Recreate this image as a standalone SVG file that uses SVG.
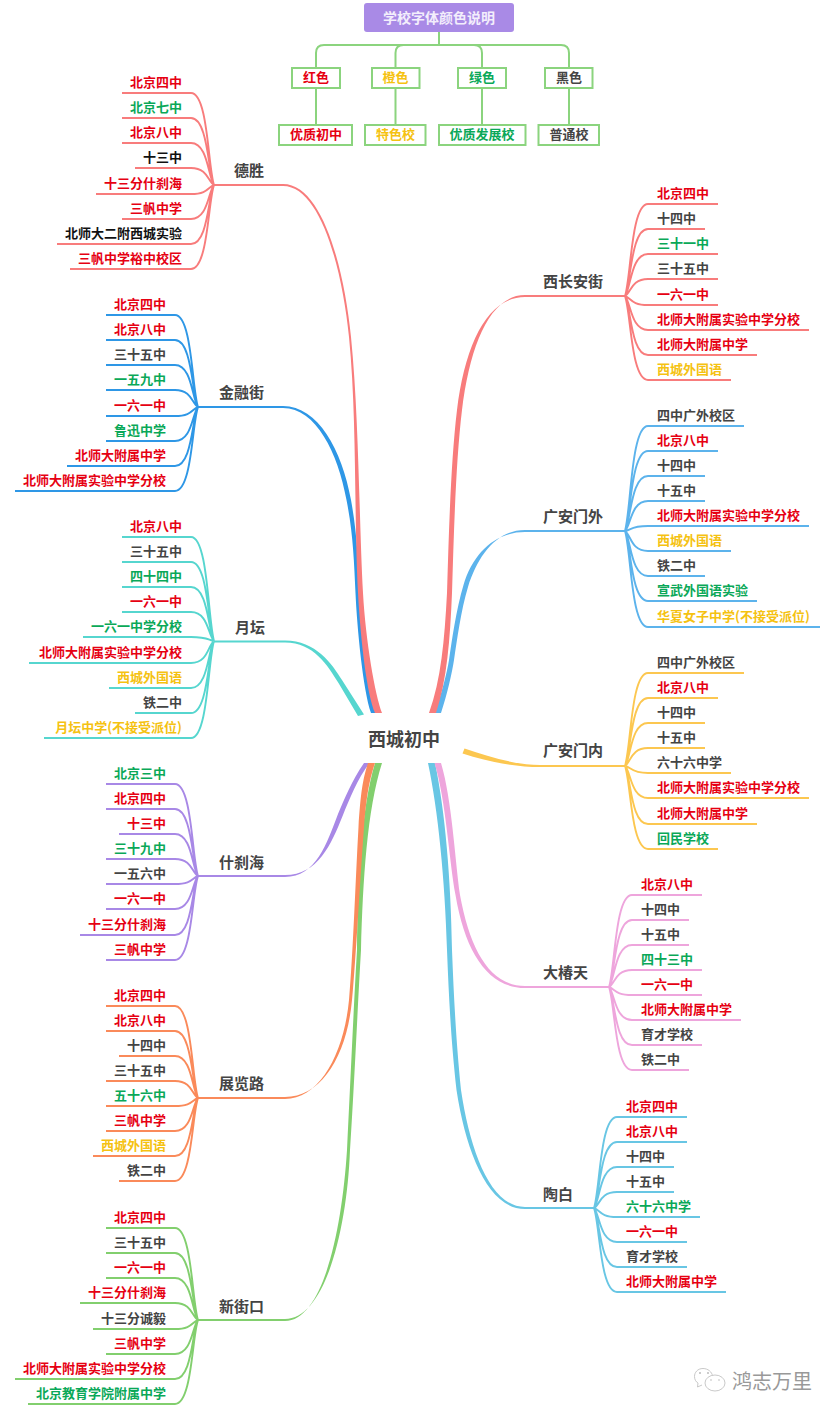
<svg xmlns="http://www.w3.org/2000/svg" width="838" height="1417" viewBox="0 0 838 1417">
<style>
text{font-family:"Noto Sans CJK SC","Liberation Sans",sans-serif;font-weight:700}
.l{font-size:13px;transform:translateY(-.8px)}
.e{text-anchor:end}
.m{text-anchor:middle}
.t{font-size:15px;fill:#444;transform:translateY(-.5px)}
.r{fill:#e60012}
.g{fill:#0aa858}
.y{fill:#f5c211}
.d{fill:#444}
.k{fill:#111}
.box{fill:#fff;stroke:#8bd47e;stroke-width:2}
.lg{fill:none;stroke:#8bd47e;stroke-width:2}
.leaf path{fill:none;stroke-width:1.9}
</style>
<rect width="838" height="1417" fill="#fff"/>
<g id="connectors">
<g id="legend-links" class="lg">
<path d="M439 32V45M316 68V53Q316 45 324 45H561Q569 45 569 53V68M395.5 68V53Q395.5 45 403.5 45H474Q482 45 482 53V68M316 88V125M395.5 88V125M482 88V125M569 88V125"/>
</g>
<g id="main-links">
<path fill="#2e97e6" d="M198 406H283C318 406 342 450 351 500C357 533 358 560 360 593C362 627 369 690 377 713H371C363 690 357 627 355.500 593C354 560 353 533 346.500 500C338 453 316 408 283 408H198Z"/>
<path fill="#f87c7c" d="M214 184H283C322 184 344 267 351 337C359 417 359 520 363 593C365.600 640 375 695 382 713H375C367 695 360.600 640 358 593C354 520 357 417 349 337C342 267 320 186 283 186H214Z"/>
<path fill="#5cb3ec" d="M625 530H525C497 530 478 555 468 587C461 610 457 640 454 660C452 673 447 695 441 713H435C441 695 447 673 449 660C452 640 456 610 463.500 585C473 553 495 532 525 532H625Z"/>
<path fill="#f87c7c" d="M625 295H525C490 295 470 345 462 410C456 460 454 527 452 593C450 640 447 680 436 713H429C441 680 444.500 640 447 593C449 527 451 460 457 410C465 345 487 297 525 297H625Z"/>
<path fill="#56d6cf" d="M214 640.500H285C316 640.500 332 664 342 680L364 714.500L358 716L338.500 683C328 666 314 642.500 285 642.500H214Z"/>
<path fill="#fcc750" d="M625 765H540C516 765 490 757 464.500 748.500L462.500 753.500C488 762 516 767 540 767H625Z"/>
<path fill="#a888e6" d="M198 875H285C318 875 331 845 343 815C349 800 358 778 369.500 763H364C352 780 344 800 338 814C327 843 316 877 285 877H198Z"/>
<path fill="#82cf6e" d="M198 1319H285C325 1319 347 1230 350 1150C354 1090 358 1000 361 950C363 880 367 810 382 763H375C361 810 358 880 357 950C354 1000 350 1090 347 1150C342 1230 323 1321 285 1321H198Z"/>
<path fill="#fa8a5a" d="M198 1097H285C322 1097 347 1055 352 1000C356 956 360 880 364 827C366.500 794 370 778 375 763H368C363 778 360.500 794 358.500 827C355.500 880 353 956 349 1000C344 1053 320 1099 285 1099H198Z"/>
<path fill="#68c6e4" d="M594 1207H525C490 1207 470 1150 461 1090C456 1040 454 1000 452 950C451 880 445 810 435 763H428C438 810 445 880 447 950C449 1000 451 1040 456.500 1090C466 1152 488 1209 525 1209H594Z"/>
<path fill="#eea5dc" d="M609 986H525C490 986 470 950 460 895C455 860 452 800 441 763H434.500C446 800 449 860 455.500 895C465 952 488 988 525 988H609Z"/>
</g>
<g class="leaf">
<path stroke="#f87c7c" d="M214 185C208 167 208 93 191 93H122M214 185C208 172 208 118 191 118H122M214 185C208 177 208 143 191 143H122M214 185C208 182 208 168 191 168H135M214 185C208 187 208 194 191 194H96M214 185C208 192 208 219 191 219H122M214 185C208 197 208 244 191 244H57M214 185C208 202 208 269 191 269H70"/>
<path stroke="#2e97e6" d="M198 407C192 389 192 315 175 315H106M198 407C192 394 192 340 175 340H106M198 407C192 399 192 365 175 365H106M198 407C192 404 192 390 175 390H106M198 407C192 409 192 416 175 416H106M198 407C192 414 192 441 175 441H106M198 407C192 419 192 466 175 466H67M198 407C192 424 192 491 175 491H15"/>
<path stroke="#56d6cf" d="M214 641C208 620 208 537 191 537H122M214 641C208 625 208 562 191 562H122M214 641C208 630 208 587 191 587H122M214 641C208 635 208 612 191 612H122M214 641C208 640 208 637 191 637H83M214 641C208 645 208 663 191 663H29M214 641C208 650 208 688 191 688H109M214 641C208 655 208 713 191 713H135M214 641C208 660 208 738 191 738H44"/>
<path stroke="#a888e6" d="M198 876C192 858 192 784 175 784H106M198 876C192 863 192 809 175 809H106M198 876C192 868 192 834 175 834H119M198 876C192 873 192 859 175 859H106M198 876C192 878 192 884 175 884H106M198 876C192 883 192 909 175 909H106M198 876C192 888 192 935 175 935H80M198 876C192 893 192 960 175 960H106"/>
<path stroke="#fa8a5a" d="M198 1098C192 1080 192 1006 175 1006H106M198 1098C192 1085 192 1031 175 1031H106M198 1098C192 1090 192 1056 175 1056H119M198 1098C192 1095 192 1081 175 1081H106M198 1098C192 1100 192 1106 175 1106H106M198 1098C192 1105 192 1131 175 1131H106M198 1098C192 1110 192 1156 175 1156H93M198 1098C192 1115 192 1181 175 1181H119"/>
<path stroke="#82cf6e" d="M198 1320C192 1302 192 1228 175 1228H106M198 1320C192 1307 192 1253 175 1253H106M198 1320C192 1312 192 1278 175 1278H106M198 1320C192 1317 192 1303 175 1303H80M198 1320C192 1322 192 1329 175 1329H93M198 1320C192 1327 192 1354 175 1354H106M198 1320C192 1332 192 1379 175 1379H15M198 1320C192 1337 192 1404 175 1404H28"/>
<path stroke="#f87c7c" d="M625 296C631 278 631 204 648 204H718M625 296C631 283 631 229 648 229H705M625 296C631 288 631 254 648 254H718M625 296C631 293 631 279 648 279H718M625 296C631 298 631 305 648 305H718M625 296C631 303 631 330 648 330H809M625 296C631 308 631 355 648 355H757M625 296C631 313 631 380 648 380H731"/>
<path stroke="#5cb3ec" d="M625 531C631 510 631 426 648 426H744M625 531C631 515 631 451 648 451H718M625 531C631 520 631 476 648 476H705M625 531C631 525 631 501 648 501H705M625 531C631 530 631 526 648 526H809M625 531C631 535 631 551 648 551H731M625 531C631 540 631 576 648 576H705M625 531C631 545 631 601 648 601H757M625 531C631 550 631 627 648 627H820"/>
<path stroke="#fcc750" d="M625 766C631 747 631 673 648 673H744M625 766C631 752 631 698 648 698H718M625 766C631 757 631 723 648 723H705M625 766C631 762 631 748 648 748H705M625 766C631 767 631 773 648 773H731M625 766C631 772 631 798 648 798H809M625 766C631 778 631 824 648 824H757M625 766C631 783 631 849 648 849H718"/>
<path stroke="#eea5dc" d="M609 987C615 969 615 895 632 895H702M609 987C615 974 615 920 632 920H689M609 987C615 979 615 945 632 945H689M609 987C615 984 615 970 632 970H702M609 987C615 989 615 995 632 995H702M609 987C615 994 615 1020 632 1020H741M609 987C615 999 615 1045 632 1045H702M609 987C615 1004 615 1070 632 1070H689"/>
<path stroke="#68c6e4" d="M594 1208C600 1190 600 1117 617 1117H687M594 1208C600 1195 600 1142 617 1142H687M594 1208C600 1200 600 1167 617 1167H674M594 1208C600 1205 600 1192 617 1192H674M594 1208C600 1210 600 1217 617 1217H700M594 1208C600 1215 600 1242 617 1242H687M594 1208C600 1220 600 1267 617 1267H687M594 1208C600 1225 600 1292 617 1292H726"/>
</g>
</g>

<g id="legend-title"><rect x="364" y="3" width="150" height="29" rx="3" fill="#a98ae6"/><text x="439" y="23" class="m" font-size="14" fill="#f3eefc">学校字体颜色说明</text></g>
<g id="legend-red"><rect class="box" x="292" y="68" width="48" height="20"/><text class="l m r" x="316" y="83">红色</text></g>
<g id="legend-orange"><rect class="box" x="372" y="68" width="47.500" height="20"/><text class="l m y" x="395.500" y="83">橙色</text></g>
<g id="legend-green"><rect class="box" x="458" y="68" width="48" height="20"/><text class="l m g" x="482" y="83">绿色</text></g>
<g id="legend-black"><rect class="box" x="545" y="68" width="47.500" height="20"/><text class="l m d" x="569" y="83">黑色</text></g>
<g id="legend-red-note"><rect class="box" x="279" y="125" width="73" height="20"/><text class="l m r" x="316" y="140">优质初中</text></g>
<g id="legend-orange-note"><rect class="box" x="365" y="125" width="60.500" height="20"/><text class="l m y" x="395.500" y="140">特色校</text></g>
<g id="legend-green-note"><rect class="box" x="439" y="125" width="86.500" height="20"/><text class="l m g" x="482" y="140">优质发展校</text></g>
<g id="legend-black-note"><rect class="box" x="538.500" y="125" width="60.500" height="20"/><text class="l m d" x="569" y="140">普通校</text></g>

<g id="root"><text x="368" y="745.500" font-size="18" fill="#444">西城初中</text></g>

<g id="topic-deshe"><text class="t" x="234" y="176.500">德胜</text></g>
<g id="topic-jinrong"><text class="t" x="219" y="398.500">金融街</text></g>
<g id="topic-yuetan"><text class="t" x="235" y="633.500">月坛</text></g>
<g id="topic-shicha"><text class="t" x="219" y="868.500">什刹海</text></g>
<g id="topic-zhanlan"><text class="t" x="219" y="1089.500">展览路</text></g>
<g id="topic-xinjie"><text class="t" x="219" y="1312.500">新街口</text></g>
<g id="topic-xichang"><text class="t" x="543" y="287.500">西长安街</text></g>
<g id="topic-guangwai"><text class="t" x="543" y="522.500">广安门外</text></g>
<g id="topic-guangnei"><text class="t" x="543" y="756.500">广安门内</text></g>
<g id="topic-dachun"><text class="t" x="543" y="978.500">大椿天</text></g>
<g id="topic-taobai"><text class="t" x="543" y="1200.500">陶白</text></g>

<g id="a1"><text class="l e r" x="182" y="88">北京四中</text></g>
<g id="a2"><text class="l e g" x="182" y="113">北京七中</text></g>
<g id="a3"><text class="l e r" x="182" y="138">北京八中</text></g>
<g id="a4"><text class="l e k" x="182" y="163">十三中</text></g>
<g id="a5"><text class="l e r" x="182" y="189">十三分什刹海</text></g>
<g id="a6"><text class="l e r" x="182" y="214">三帆中学</text></g>
<g id="a7"><text class="l e k" x="182" y="239">北师大二附西城实验</text></g>
<g id="a8"><text class="l e r" x="182" y="264">三帆中学裕中校区</text></g>

<g id="b1"><text class="l e r" x="166" y="310">北京四中</text></g>
<g id="b2"><text class="l e r" x="166" y="335">北京八中</text></g>
<g id="b3"><text class="l e d" x="166" y="360">三十五中</text></g>
<g id="b4"><text class="l e g" x="166" y="385">一五九中</text></g>
<g id="b5"><text class="l e r" x="166" y="411">一六一中</text></g>
<g id="b6"><text class="l e g" x="166" y="436">鲁迅中学</text></g>
<g id="b7"><text class="l e r" x="166" y="461">北师大附属中学</text></g>
<g id="b8"><text class="l e r" x="166" y="486">北师大附属实验中学分校</text></g>

<g id="c1"><text class="l e r" x="182" y="532">北京八中</text></g>
<g id="c2"><text class="l e d" x="182" y="557">三十五中</text></g>
<g id="c3"><text class="l e g" x="182" y="582">四十四中</text></g>
<g id="c4"><text class="l e r" x="182" y="607">一六一中</text></g>
<g id="c5"><text class="l e g" x="182" y="632">一六一中学分校</text></g>
<g id="c6"><text class="l e r" x="182" y="658">北师大附属实验中学分校</text></g>
<g id="c7"><text class="l e y" x="182" y="683">西城外国语</text></g>
<g id="c8"><text class="l e d" x="182" y="708">铁二中</text></g>
<g id="c9"><text class="l e y" x="182" y="733">月坛中学(不接受派位)</text></g>

<g id="d1"><text class="l e g" x="166" y="779">北京三中</text></g>
<g id="d2"><text class="l e r" x="166" y="804">北京四中</text></g>
<g id="d3"><text class="l e r" x="166" y="829">十三中</text></g>
<g id="d4"><text class="l e g" x="166" y="854">三十九中</text></g>
<g id="d5"><text class="l e d" x="166" y="879">一五六中</text></g>
<g id="d6"><text class="l e r" x="166" y="904">一六一中</text></g>
<g id="d7"><text class="l e r" x="166" y="930">十三分什刹海</text></g>
<g id="d8"><text class="l e r" x="166" y="955">三帆中学</text></g>

<g id="e1"><text class="l e r" x="166" y="1001">北京四中</text></g>
<g id="e2"><text class="l e r" x="166" y="1026">北京八中</text></g>
<g id="e3"><text class="l e d" x="166" y="1051">十四中</text></g>
<g id="e4"><text class="l e d" x="166" y="1076">三十五中</text></g>
<g id="e5"><text class="l e g" x="166" y="1101">五十六中</text></g>
<g id="e6"><text class="l e r" x="166" y="1126">三帆中学</text></g>
<g id="e7"><text class="l e y" x="166" y="1151">西城外国语</text></g>
<g id="e8"><text class="l e d" x="166" y="1176">铁二中</text></g>

<g id="f1"><text class="l e r" x="166" y="1223">北京四中</text></g>
<g id="f2"><text class="l e d" x="166" y="1248">三十五中</text></g>
<g id="f3"><text class="l e r" x="166" y="1273">一六一中</text></g>
<g id="f4"><text class="l e r" x="166" y="1298">十三分什刹海</text></g>
<g id="f5"><text class="l e d" x="166" y="1324">十三分诚毅</text></g>
<g id="f6"><text class="l e r" x="166" y="1349">三帆中学</text></g>
<g id="f7"><text class="l e r" x="166" y="1374">北师大附属实验中学分校</text></g>
<g id="f8"><text class="l e g" x="166" y="1399">北京教育学院附属中学</text></g>

<g id="h1"><text class="l r" x="657" y="199">北京四中</text></g>
<g id="h2"><text class="l d" x="657" y="224">十四中</text></g>
<g id="h3"><text class="l g" x="657" y="249">三十一中</text></g>
<g id="h4"><text class="l d" x="657" y="274">三十五中</text></g>
<g id="h5"><text class="l r" x="657" y="300">一六一中</text></g>
<g id="h6"><text class="l r" x="657" y="325">北师大附属实验中学分校</text></g>
<g id="h7"><text class="l r" x="657" y="350">北师大附属中学</text></g>
<g id="h8"><text class="l y" x="657" y="375">西城外国语</text></g>

<g id="i1"><text class="l d" x="657" y="421">四中广外校区</text></g>
<g id="i2"><text class="l r" x="657" y="446">北京八中</text></g>
<g id="i3"><text class="l d" x="657" y="471">十四中</text></g>
<g id="i4"><text class="l d" x="657" y="496">十五中</text></g>
<g id="i5"><text class="l r" x="657" y="521">北师大附属实验中学分校</text></g>
<g id="i6"><text class="l y" x="657" y="546">西城外国语</text></g>
<g id="i7"><text class="l d" x="657" y="571">铁二中</text></g>
<g id="i8"><text class="l g" x="657" y="596">宣武外国语实验</text></g>
<g id="i9"><text class="l y" x="657" y="622">华夏女子中学(不接受派位)</text></g>

<g id="j1"><text class="l d" x="657" y="668">四中广外校区</text></g>
<g id="j2"><text class="l r" x="657" y="693">北京八中</text></g>
<g id="j3"><text class="l d" x="657" y="718">十四中</text></g>
<g id="j4"><text class="l d" x="657" y="743">十五中</text></g>
<g id="j5"><text class="l d" x="657" y="768">六十六中学</text></g>
<g id="j6"><text class="l r" x="657" y="793">北师大附属实验中学分校</text></g>
<g id="j7"><text class="l r" x="657" y="819">北师大附属中学</text></g>
<g id="j8"><text class="l g" x="657" y="844">回民学校</text></g>

<g id="m1"><text class="l r" x="641" y="890">北京八中</text></g>
<g id="m2"><text class="l d" x="641" y="915">十四中</text></g>
<g id="m3"><text class="l d" x="641" y="940">十五中</text></g>
<g id="m4"><text class="l g" x="641" y="965">四十三中</text></g>
<g id="m5"><text class="l r" x="641" y="990">一六一中</text></g>
<g id="m6"><text class="l r" x="641" y="1015">北师大附属中学</text></g>
<g id="m7"><text class="l d" x="641" y="1040">育才学校</text></g>
<g id="m8"><text class="l d" x="641" y="1065">铁二中</text></g>

<g id="n1"><text class="l r" x="626" y="1112">北京四中</text></g>
<g id="n2"><text class="l r" x="626" y="1137">北京八中</text></g>
<g id="n3"><text class="l d" x="626" y="1162">十四中</text></g>
<g id="n4"><text class="l d" x="626" y="1187">十五中</text></g>
<g id="n5"><text class="l g" x="626" y="1212">六十六中学</text></g>
<g id="n6"><text class="l r" x="626" y="1237">一六一中</text></g>
<g id="n7"><text class="l d" x="626" y="1262">育才学校</text></g>
<g id="n8"><text class="l r" x="626" y="1287">北师大附属中学</text></g>

<g id="watermark">
<path d="M703 1368.500C697.500 1368.500 694.500 1372.500 694.500 1376.500C694.500 1379.500 696 1382 698 1383L697.500 1387L702 1385" fill="#fff" stroke="#bbb" stroke-width=".8"/>
<path d="M703 1368.500C708 1368.500 712 1372 712.500 1376" fill="none" stroke="#bbb" stroke-width=".8"/>
<ellipse cx="715" cy="1383" rx="10" ry="8" fill="#fff" stroke="#bbb" stroke-width=".8"/>
<circle cx="700" cy="1373" r="1" fill="#bbb"/><circle cx="708" cy="1373" r="1" fill="#bbb"/><circle cx="711" cy="1380" r=".8" fill="#bbb"/><circle cx="719" cy="1380" r=".8" fill="#bbb"/>
<text x="732" y="1389" font-size="20" fill="#999" style="font-weight:400">鸿志万里</text>
</g>
</svg>
